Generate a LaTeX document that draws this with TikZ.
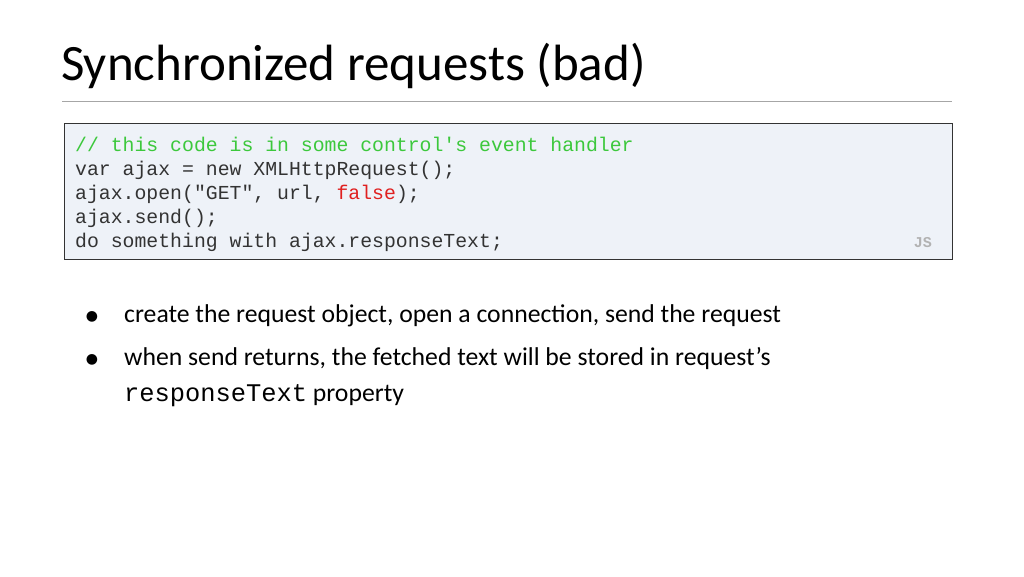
\documentclass[tikz,border=0pt]{standalone}
\usepackage{fontspec}
\setmainfont{Carlito}
\setmonofont{Liberation Mono}
\newfontfamily\djv{DejaVu Sans}
\definecolor{codebg}{HTML}{EEF2F8}
\definecolor{cmt}{HTML}{3CC83C}
\definecolor{kw}{HTML}{E02020}
\definecolor{codetxt}{HTML}{333333}
\begin{document}
\begin{tikzpicture}[x=1pt,y=-1pt,
  code/.style={anchor=base west,inner sep=0pt,font=\fontsize{19.8}{24}\ttfamily,text=codetxt},
  body/.style={anchor=base west,inner sep=0pt,font=\fontsize{25.7}{30}\selectfont},
  dot/.style={anchor=base,inner sep=0pt,font=\fontsize{14}{18}\djv}]
\useasboundingbox (0,0) rectangle (1024,576);
\node[anchor=base west,inner sep=0pt,font=\fontsize{51}{56}\selectfont] (title) at (61,80) {Synchronized requests (bad)};
\draw[gray!70,line width=0.8pt] (62,101) -- (952,101);
\draw[fill=codebg,draw=black!80,line width=0.8pt] (64,123) rectangle (952,259);
\node[code,text=cmt] (l1) at (75,151) {// this code is in some control's event handler};
\node[code] (l2) at (75,175) {var ajax = new XMLHttpRequest();};
\node[code] (l3) at (75,199) {ajax.open("GET", url, \textcolor{kw}{false});};
\node[code] (l4) at (75,223) {ajax.send();};
\node[code] (l5) at (75,247) {do something with ajax.responseText;};
\node[anchor=base east,inner sep=0pt,font=\fontsize{15}{18}\ttfamily\bfseries,text=black!30] (js) at (932,247) {JS};
\node[dot] (b1) at (92,320) {●};
\node[body] (t1) at (124,322) {create the request object, open a connection, send the request};
\node[dot] (b2) at (92,363) {●};
\node[body] (t2) at (124,365) {when send returns, the fetched text will be stored in request’s};
\node[body] (t3) at (124,401) {{\fontsize{25.4}{30}\ttfamily responseText} property};
\end{tikzpicture}
\end{document}
